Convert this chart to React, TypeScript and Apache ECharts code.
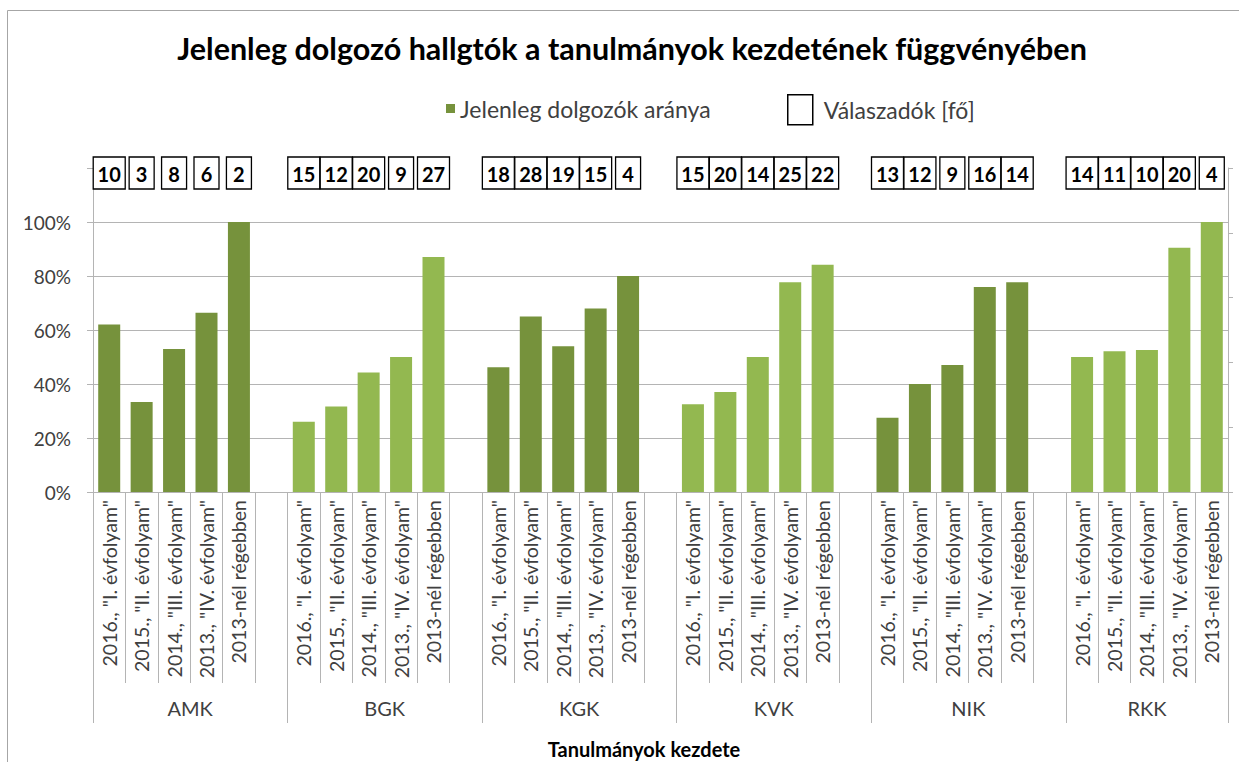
import React, { useEffect, useRef } from "react";
import * as echarts from "echarts";

const groups = ["AMK", "BGK", "KGK", "KVK", "NIK", "RKK"];
const cohorts = [
  '2016., "I. évfolyam"',
  '2015., "II. évfolyam"',
  '2014., "III. évfolyam"',
  '2013., "IV. évfolyam"',
  "2013-nél régebben",
];
const shareAMK = [62, 33.3, 53, 66.4, 100];
const shareBGK = [26, 31.7, 44.3, 50, 87];
const shareKGK = [46.2, 65, 54, 68, 80];
const shareKVK = [32.5, 37, 50, 77.7, 84.2];
const shareNIK = [27.5, 40, 47, 75.9, 77.7];
const shareRKK = [50, 52.1, 52.6, 90.5, 100];
const countAMK = [10, 3, 8, 6, 2];
const countBGK = [15, 12, 20, 9, 27];
const countKGK = [18, 28, 19, 15, 4];
const countKVK = [15, 20, 14, 25, 22];
const countNIK = [13, 12, 9, 16, 14];
const countRKK = [14, 11, 10, 20, 4];
const yTicks = [0, 20, 40, 60, 80, 100];

const shares = [shareAMK, shareBGK, shareKGK, shareKVK, shareNIK, shareRKK];
const counts = [countAMK, countBGK, countKGK, countKVK, countNIK, countRKK];

const DARK = "#76923C";
const LIGHT = "#93B850";
const FONT = "Lato, 'Open Sans', sans-serif";
const TXT = "#404040";
const GRID = "#b4b4b4";

// build slot categories: 5 cohorts + 1 blank per group (last group without blank)
const cats: string[] = [];
const barData: any[] = [];
const boxData: any[] = [];
const groupStarts: number[] = [];
groups.forEach((g, gi) => {
  groupStarts.push(cats.length);
  cohorts.forEach((c, ci) => {
    boxData.push([cats.length, counts[gi][ci]]);
    barData.push({ value: shares[gi][ci], itemStyle: { color: gi % 2 === 0 ? DARK : LIGHT } });
    cats.push(g + "|" + c);
  });
  if (gi < groups.length - 1) {
    cats.push(g + "|");
    barData.push(null);
  }
});

export default function App() {
  const ref = useRef<HTMLDivElement>(null);
  useEffect(() => {
    if (!ref.current) return;
    const chart = echarts.init(ref.current, undefined, { renderer: "svg" });
    chart.setOption({
      animation: false,
      backgroundColor: "#fff",
      textStyle: { fontFamily: FONT },
      title: [
        {
          text: "Jelenleg dolgozó hallgtók a tanulmányok kezdetének függvényében",
          left: 627,
          textAlign: "center",
          top: 27,
          textStyle: { fontFamily: FONT, fontSize: 30.5, fontWeight: "bold", color: "#000" },
        },
        {
          text: "Tanulmányok kezdete",
          left: 639,
          textAlign: "center",
          top: 734,
          textStyle: { fontFamily: FONT, fontSize: 20, fontWeight: "bold", color: "#000" },
        },
      ],
      legend: [
        {
          data: ["Jelenleg dolgozók aránya"],
          left: 441,
          top: 92,
          itemWidth: 9,
          itemHeight: 9,
          icon: "rect",
          textStyle: { fontFamily: FONT, fontSize: 23, color: TXT },
        },
        {
          data: [
            {
              name: "Válaszadók [fő]",
              icon: "rect",
              itemStyle: { color: "#fff", borderColor: "#000", borderWidth: 1.5 },
            },
          ],
          left: 782,
          top: 89,
          itemWidth: 25,
          itemHeight: 30,
          textStyle: { fontFamily: FONT, fontSize: 23, color: TXT, padding: [0, 0, 0, 6] },
        },
      ],
      graphic: [
        {
          type: "rect",
          shape: { x: 7.5, y: 10.5, width: 1300, height: 800 },
          style: { fill: "none", stroke: "#a6a6a6", lineWidth: 1 },
          silent: true,
        },
      ],
      grid: { left: 93, right: 11, top: 168, bottom: 270, containLabel: false },
      xAxis: [
        {
          type: "category",
          data: cats,
          position: "bottom",
          axisLine: { show: true, lineStyle: { color: GRID } },
          axisTick: { show: true, interval: 0, length: 191, lineStyle: { color: GRID } },
          axisLabel: {
            interval: 0,
            rotate: 90,
            margin: 8,
            fontSize: 19.5,
            fontFamily: FONT,
            color: TXT,
            formatter: (v: string) => v.split("|")[1],
          },
          splitLine: { show: false },
        },
        {
          type: "category",
          data: cats,
          position: "bottom",
          axisLine: { show: false },
          axisTick: {
            show: true,
            length: 231,
            interval: (i: number) => groupStarts.indexOf(i) >= 0,
            lineStyle: { color: GRID },
          },
          axisLabel: {
            interval: 0,
            margin: 206,
            fontSize: 20,
            fontFamily: FONT,
            color: TXT,
            formatter: (v: string, i: number) => {
              const gi = groupStarts.indexOf(i - 2);
              if (gi < 0) return "";
              return gi < groups.length - 1 ? "{s|" + groups[gi] + "}" : "{n|" + groups[gi] + "}";
            },
            rich: {
              s: { padding: [0, 0, 0, 32], fontSize: 20, fontFamily: FONT, color: TXT },
              n: { fontSize: 20, fontFamily: FONT, color: TXT },
            },
          },
          splitLine: { show: false },
        },
      ],
      yAxis: [
        {
          type: "value",
          min: 0,
          max: 120,
          interval: 20,
          axisLine: { show: true, lineStyle: { color: GRID } },
          axisTick: { show: true, length: 6, lineStyle: { color: GRID } },
          axisLabel: {
            margin: 22,
            fontSize: 19,
            fontFamily: FONT,
            color: TXT,
            formatter: (v: number) => (yTicks.indexOf(v) >= 0 ? v + "%" : ""),
          },
          splitLine: {
            show: true,
            lineStyle: { color: [GRID, GRID, GRID, GRID, GRID, GRID, "rgba(0,0,0,0)"] },
          },
        },
        {
          type: "value",
          min: 0,
          max: 30,
          interval: 6,
          position: "right",
          axisLine: { show: true, lineStyle: { color: GRID } },
          axisTick: { show: true, length: 5, lineStyle: { color: GRID } },
          axisLabel: { show: false },
          splitLine: { show: false },
        },
      ],
      series: [
        {
          name: "Jelenleg dolgozók aránya",
          type: "bar",
          xAxisIndex: 0,
          yAxisIndex: 0,
          data: barData,
          barWidth: 22,
          itemStyle: { color: DARK },
        },
        {
          name: "Válaszadók [fő]",
          type: "custom",
          xAxisIndex: 0,
          yAxisIndex: 1,
          data: boxData,
          itemStyle: { color: "#fff", borderColor: "#000" },
          z: 5,
          renderItem: (params: any, api: any) => {
            const idx = api.value(0);
            const n = api.value(1);
            const x = api.coord([idx, 0])[0];
            const y = params.coordSys.y + 5;
            const label = String(n);
            const w = label.length > 1 ? 32 : 25;
            return {
              type: "group",
              children: [
                {
                  type: "rect",
                  shape: { x: x - w / 2, y: y - 16, width: w, height: 32 },
                  style: { fill: "#fff", stroke: "#000", lineWidth: 1.3 },
                },
                {
                  type: "text",
                  style: {
                    text: label,
                    x: x,
                    y: y + 1,
                    align: "center",
                    verticalAlign: "middle",
                    font: "bold 20px Lato",
                    fill: "#000",
                  },
                },
              ],
            };
          },
        },
      ],
    });
    return () => chart.dispose();
  }, []);
  return (
    <div
      ref={ref}
      style={{ position: "absolute", left: 0, top: 0, width: 1239, height: 762, background: "#fff" }}
    />
  );
}
